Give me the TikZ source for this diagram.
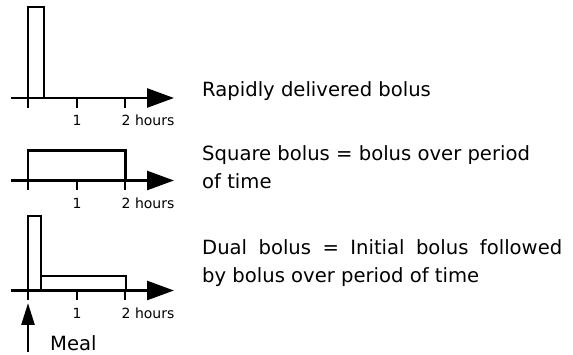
\documentclass[tikz,border=0pt]{standalone}
\usepackage{fontspec}
\setmainfont{DejaVu Sans}
\usetikzlibrary{positioning,calc,arrows.meta}
\tikzset{AXIS/.style={line width=2.6pt, -{Triangle[length=27pt,width=19pt]}}}
\tikzset{BAR/.style={line width=2.2pt}}
\tikzset{TICK/.style={line width=2.4pt}}
\tikzset{TLABEL/.style={font=\fontsize{14}{16}\selectfont, anchor=base, inner sep=0pt}}
\tikzset{NOTE/.style={font=\fontsize{19.6}{28.5}\selectfont, anchor=base west, align=left, inner sep=0pt}}

\begin{document}
\begin{tikzpicture}[x=1pt,y=-1pt]
    \useasboundingbox (0,0) rectangle (573,355);

    % origins of the three time axes
    \coordinate (o1) at (28,98);
    \coordinate (o2) at (28,180.5);
    \coordinate (o3) at (28,290.5);

    % axes, ticks and hour labels
    \foreach \o in {o1,o2,o3} {
        \draw[AXIS] ($(\o)+(-17,0)$) -- ($(\o)+(146,0)$);
        \foreach \t in {0,49,97}
            \draw[TICK] ($(\o)+(\t,0)$) -- ($(\o)+(\t,10)$);
        \node[TLABEL] (\o_one) at ($(\o)+(49,28)$) {1};
        \node[TLABEL, anchor=base west] (\o_two) at ($(\o)+(93.5,28)$) {2 hours};
    }

    % rapidly delivered bolus
    \draw[BAR] (o1) rectangle ($(o1)+(16,-91)$);

    % square bolus
    \draw[BAR] (o2) rectangle ($(o2)+(97.5,-30)$);

    % dual bolus
    \draw[BAR] (o3) |- ($(o3)+(13,-74.5)$) -- ($(o3)+(13,0)$);
    \draw[BAR] ($(o3)+(13,-14.5)$) -| ($(o3)+(98,0)$);

    % meal marker
    \coordinate (meal_start) at ($(o3)+(0,61.5)$);
    \coordinate (meal_end) at ($(o3)+(0,12.5)$);
    \draw[line width=2.6pt, -{Triangle[length=22pt,width=13pt]}] (meal_start) -- (meal_end);
    \node[NOTE] (n_meal) at (50,350) {Meal};

    % descriptions (base = last line)
    \node[NOTE] (n_rapid) at (202,97) {Rapidly delivered bolus};
    \node[NOTE] (n_square) at (202,189) {Square bolus = bolus over period\\ of time};
    \node[NOTE] (n_dual) at (202,283) {\makebox[360pt][s]{Dual bolus = Initial bolus followed}\\ by bolus over period of time};

\end{tikzpicture}
\end{document}
